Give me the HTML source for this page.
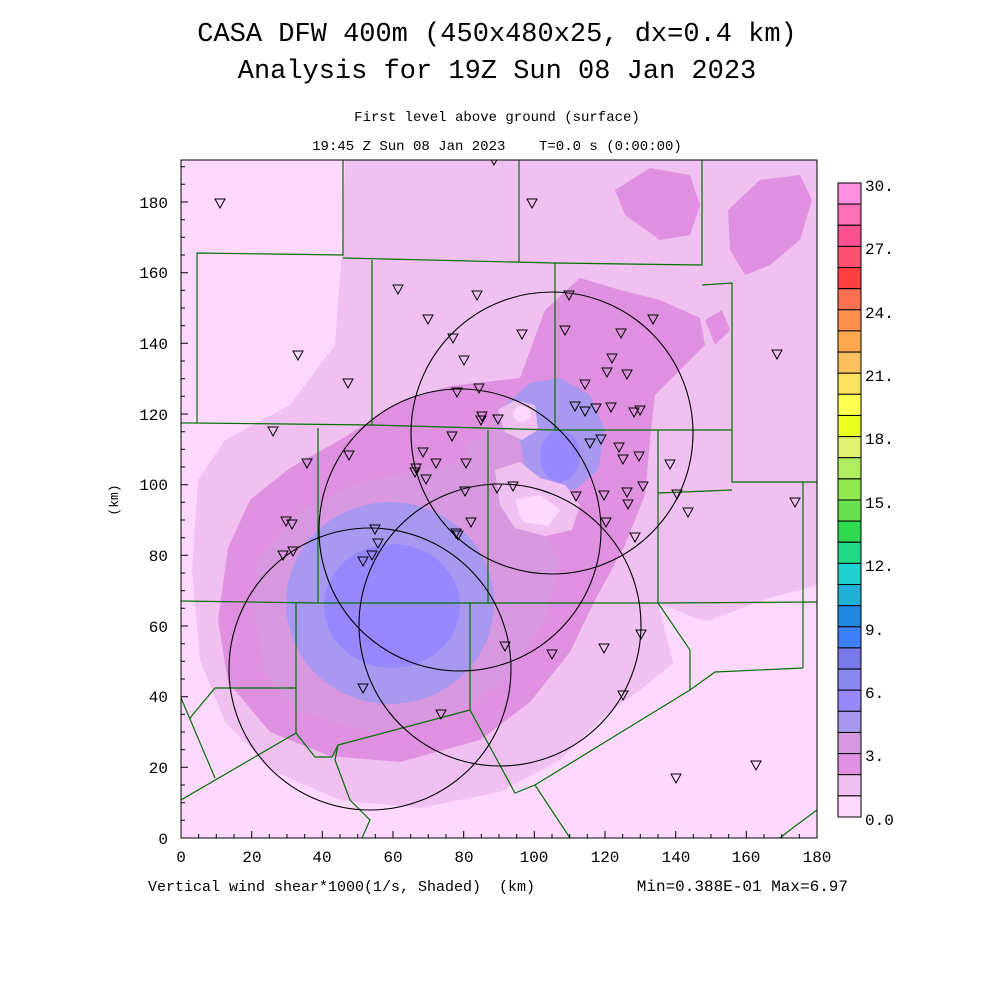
<!DOCTYPE html>
<html><head><meta charset="utf-8"><style>
html,body{margin:0;padding:0;background:#fff}
svg{display:block}
text{font-family:"Liberation Mono","DejaVu Sans Mono",monospace;fill:#000;white-space:pre}
</style></head><body>
<svg width="1000" height="1000" viewBox="0 0 1000 1000" xmlns="http://www.w3.org/2000/svg" xml:space="preserve">
<defs>
<clipPath id="pc"><rect x="181" y="160" width="636" height="678"/></clipPath>
</defs>
<text x="497" y="41" font-size="27" text-anchor="middle">CASA DFW 400m (450x480x25, dx=0.4 km)</text>
<text x="497" y="78" font-size="27" text-anchor="middle">Analysis for 19Z Sun 08 Jan 2023</text>
<text x="497" y="121" font-size="14" text-anchor="middle">First level above ground (surface)</text>
<text x="497" y="150" font-size="14" text-anchor="middle">19:45 Z Sun 08 Jan 2023    T=0.0 s (0:00:00)</text>

<g clip-path="url(#pc)">
<rect x="181" y="160" width="636" height="678" fill="#ffd8ff"/>
<g stroke-linejoin="round">
<path fill="#f0c0f0" d="M345,160 L817,160 L817,585 L770,598 L715,618 L690,650 L640,690 L600,720 L560,760 L500,792 L420,808 L340,800 L275,772 L225,722 L200,660 L192,570 L198,480 L225,440 L290,405 L335,345 L342,250 Z"/>
<path fill="#ffd8ff" d="M658,603 L700,620 L817,625 L817,838 L560,838 L620,760 L680,690 Z"/>
<path fill="#e090e0" d="M250,500 L290,468 L340,440 L400,402 L450,386 L520,378 L545,310 L580,278 L620,290 L660,300 L700,318 L705,345 L680,370 L655,395 L650,440 L645,495 L625,545 L595,600 L570,652 L530,702 L480,740 L400,762 L330,756 L270,732 L228,682 L218,620 L228,548 Z"/>
<path fill="#e090e0" d="M615,190 L650,168 L690,175 L700,205 L690,235 L660,240 L625,215 Z"/>
<path fill="#e090e0" d="M728,210 L760,180 L800,175 L812,200 L800,240 L770,265 L745,275 L730,250 Z"/>
<path fill="#e090e0" d="M705,320 L722,310 L730,330 L715,345 Z"/>
<path fill="#d898e0" d="M258,560 L300,512 L360,482 L420,470 L470,460 L500,405 L540,380 L580,395 L605,425 L595,470 L545,472 L535,520 L560,560 L545,620 L505,680 L445,720 L370,732 L300,712 L265,672 L254,612 Z"/>
<path fill="#a898f0" d="M500,410 L530,383 L560,378 L590,395 L605,430 L598,470 L575,490 L545,488 L525,470 L520,440 Z"/>
<ellipse cx="390" cy="603" rx="104" ry="101" fill="#a898f0"/>
<ellipse cx="392" cy="606" rx="68" ry="62" fill="#9888ff"/>
<ellipse cx="560" cy="456" rx="20" ry="26" fill="#9888ff"/>
<ellipse cx="480" cy="450" rx="14" ry="10" fill="#d898e0"/>
<path fill="#f0c0f0" d="M495,470 L520,462 L540,478 L565,485 L580,505 L572,530 L545,536 L515,528 L500,505 Z"/>
<path fill="#ffd8ff" d="M515,500 L540,495 L560,510 L548,526 L522,522 Z"/>
<path fill="#f0c0f0" d="M498,410 L515,400 L535,405 L538,430 L522,440 L505,432 Z"/>
<ellipse cx="522" cy="414" rx="9" ry="8" fill="#ffd8ff"/>
</g>
<g fill="none" stroke="#007000" stroke-width="1.2">
<path d="M343,160 L343,255 L197,253 L197,423 L372,425 L555,430 L732,430"/>
<path d="M343,258 L555,263 L702,265 L702,160"/>
<path d="M519,160 L519,262"/>
<path d="M702,285 L732,283 L732,482 L817,482"/>
<path d="M555,263 L555,430"/>
<path d="M372,260 L372,425"/>
<path d="M181,423 L197,423"/>
<path d="M318,428 L318,603"/>
<path d="M488,430 L488,603"/>
<path d="M658,430 L658,603"/>
<path d="M658,493 L732,490"/>
<path d="M803,482 L803,668"/>
<path d="M181,601 L318,603 L658,603 L817,602"/>
<path d="M296,603 L296,688 L215,688 L190,718"/>
<path d="M296,688 L296,733 L181,800"/>
<path d="M181,698 L215,778"/>
<path d="M470,603 L470,710 L338,745 L332,757 L315,757 L296,733"/>
<path d="M470,710 L515,793 L535,785 L690,690"/>
<path d="M658,603 L690,650 L690,690 L715,672 L803,668"/>
<path d="M535,785 L570,838"/>
<path d="M338,745 L335,760 L350,800 L370,820 L362,838"/>
<path d="M817,810 L790,830 L780,838"/>
</g>
<g fill="none" stroke="#000" stroke-width="1.1">
<circle cx="552" cy="433" r="141"/>
<circle cx="460" cy="530" r="141"/>
<circle cx="370" cy="669" r="141"/>
<circle cx="500" cy="625" r="141"/>
</g>
</g>
<g fill="none" stroke="#000" stroke-width="1" clip-path="url(#pc)">
<path d="
M489,156l10,0l-5,9z M527,199l10,0l-5,9z M393,285l10,0l-5,9z M472,291l10,0l-5,9z M423,315l10,0l-5,9z
M564,291l10,0l-5,9z M616,329l10,0l-5,9z M648,315l10,0l-5,9z M293,351l10,0l-5,9z M448,334l10,0l-5,9z
M459,356l10,0l-5,9z M517,330l10,0l-5,9z M560,326l10,0l-5,9z M607,354l10,0l-5,9z M580,380l10,0l-5,9z
M602,368l10,0l-5,9z M622,370l10,0l-5,9z M343,379l10,0l-5,9z M452,388l10,0l-5,9z M474,384l10,0l-5,9z
M606,403l10,0l-5,9z M591,404l10,0l-5,9z M570,402l10,0l-5,9z M580,407l10,0l-5,9z M635,406l10,0l-5,9z
M629,408l10,0l-5,9z M477,412l10,0l-5,9z M476,416l10,0l-5,9z M493,415l10,0l-5,9z M268,427l10,0l-5,9z
M447,432l10,0l-5,9z M596,435l10,0l-5,9z M585,439l10,0l-5,9z M614,443l10,0l-5,9z M618,455l10,0l-5,9z
M634,452l10,0l-5,9z M344,451l10,0l-5,9z M418,448l10,0l-5,9z M302,459l10,0l-5,9z M411,464l10,0l-5,9z
M431,459l10,0l-5,9z M461,459l10,0l-5,9z M665,460l10,0l-5,9z M571,492l10,0l-5,9z M599,491l10,0l-5,9z
M622,488l10,0l-5,9z M638,482l10,0l-5,9z M623,500l10,0l-5,9z M672,490l10,0l-5,9z M683,508l10,0l-5,9z
M421,475l10,0l-5,9z M410,468l10,0l-5,9z M492,484l10,0l-5,9z M508,482l10,0l-5,9z M460,487l10,0l-5,9z
M281,517l10,0l-5,9z M287,520l10,0l-5,9z M466,518l10,0l-5,9z M451,529l10,0l-5,9z M453,531l10,0l-5,9z
M370,525l10,0l-5,9z M373,539l10,0l-5,9z M367,551l10,0l-5,9z M358,557l10,0l-5,9z M278,551l10,0l-5,9z
M288,547l10,0l-5,9z M601,518l10,0l-5,9z M630,533l10,0l-5,9z M500,642l10,0l-5,9z M547,650l10,0l-5,9z
M599,644l10,0l-5,9z M636,630l10,0l-5,9z M618,691l10,0l-5,9z M358,684l10,0l-5,9z M436,710l10,0l-5,9z
M671,774l10,0l-5,9z M751,761l10,0l-5,9z M772,350l10,0l-5,9z M790,498l10,0l-5,9z M215,199l10,0l-5,9z"/>
</g>
<rect x="181" y="160" width="636" height="678" fill="none" stroke="#000" stroke-width="1"/>
<g stroke="#000" stroke-width="1">
<path d="M181,838h7M181,820.3h4M181,802.7h4M181,785h4M181,767.3h7M181,749.7h4M181,732h4M181,714.3h4M181,696.7h7M181,679h4M181,661.3h4M181,643.7h4M181,626h7M181,608.3h4M181,590.7h4M181,573h4M181,555.3h7M181,537.7h4M181,520h4M181,502.3h4M181,484.7h7M181,467h4M181,449.3h4M181,431.7h4M181,414h7M181,396.3h4M181,378.7h4M181,361h4M181,343.3h7M181,325.7h4M181,308h4M181,290.3h4M181,272.7h7M181,255h4M181,237.3h4M181,219.7h4M181,202h7M181,184.3h4M181,166.7h4"/>
<path d="M181,838v-7M198.7,838v-4M216.3,838v-4M234,838v-4M251.7,838v-7M269.3,838v-4M287,838v-4M304.7,838v-4M322.3,838v-7M340,838v-4M357.7,838v-4M375.3,838v-4M393,838v-7M410.7,838v-4M428.3,838v-4M446,838v-4M463.7,838v-7M481.3,838v-4M499,838v-4M516.7,838v-4M534.3,838v-7M552,838v-4M569.7,838v-4M587.3,838v-4M605,838v-7M622.7,838v-4M640.3,838v-4M658,838v-4M675.7,838v-7M693.3,838v-4M711,838v-4M728.7,838v-4M746.3,838v-7M764,838v-4M781.7,838v-4M799.3,838v-4M817,838v-7"/>
</g>
<g font-size="16" text-anchor="end">
<text x="168" y="844">0</text><text x="168" y="773">20</text><text x="168" y="702">40</text><text x="168" y="632">60</text><text x="168" y="561">80</text><text x="168" y="490">100</text><text x="168" y="420">120</text><text x="168" y="349">140</text><text x="168" y="278">160</text><text x="168" y="208">180</text>
</g>
<g font-size="16" text-anchor="middle">
<text x="181" y="862">0</text><text x="252" y="862">20</text><text x="322" y="862">40</text><text x="393" y="862">60</text><text x="464" y="862">80</text><text x="534" y="862">100</text><text x="605" y="862">120</text><text x="676" y="862">140</text><text x="746" y="862">160</text><text x="817" y="862">180</text>
</g>
<text x="118" y="500" font-size="13" text-anchor="middle" transform="rotate(-90 118 500)">(km)</text>
<text x="148" y="891" font-size="15">Vertical wind shear*1000(1/s, Shaded)  (km)</text>
<text x="848" y="891" font-size="16" text-anchor="end">Min=0.388E-01 Max=6.97</text>
<g stroke="#000" stroke-width="1">
<rect x="838" y="183.0" width="23" height="21.1" fill="#ff90e0"/>
<rect x="838" y="204.1" width="23" height="21.1" fill="#ff70b8"/>
<rect x="838" y="225.3" width="23" height="21.1" fill="#ff5090"/>
<rect x="838" y="246.4" width="23" height="21.1" fill="#ff5070"/>
<rect x="838" y="267.5" width="23" height="21.1" fill="#ff4040"/>
<rect x="838" y="288.7" width="23" height="21.1" fill="#ff7050"/>
<rect x="838" y="309.8" width="23" height="21.1" fill="#ff9050"/>
<rect x="838" y="330.9" width="23" height="21.1" fill="#ffa850"/>
<rect x="838" y="352.1" width="23" height="21.1" fill="#ffc060"/>
<rect x="838" y="373.2" width="23" height="21.1" fill="#ffe060"/>
<rect x="838" y="394.3" width="23" height="21.1" fill="#ffff50"/>
<rect x="838" y="415.5" width="23" height="21.1" fill="#e8ff20"/>
<rect x="838" y="436.6" width="23" height="21.1" fill="#e0f070"/>
<rect x="838" y="457.7" width="23" height="21.1" fill="#b0f060"/>
<rect x="838" y="478.9" width="23" height="21.1" fill="#90e850"/>
<rect x="838" y="500.0" width="23" height="21.1" fill="#68e050"/>
<rect x="838" y="521.1" width="23" height="21.1" fill="#30d850"/>
<rect x="838" y="542.3" width="23" height="21.1" fill="#20d888"/>
<rect x="838" y="563.4" width="23" height="21.1" fill="#20d0d0"/>
<rect x="838" y="584.5" width="23" height="21.1" fill="#20b0d8"/>
<rect x="838" y="605.7" width="23" height="21.1" fill="#2088e0"/>
<rect x="838" y="626.8" width="23" height="21.1" fill="#3c80ff"/>
<rect x="838" y="647.9" width="23" height="21.1" fill="#7878e8"/>
<rect x="838" y="669.1" width="23" height="21.1" fill="#8888f0"/>
<rect x="838" y="690.2" width="23" height="21.1" fill="#9888ff"/>
<rect x="838" y="711.3" width="23" height="21.1" fill="#a898f0"/>
<rect x="838" y="732.5" width="23" height="21.1" fill="#d898e0"/>
<rect x="838" y="753.6" width="23" height="21.1" fill="#e090e0"/>
<rect x="838" y="774.7" width="23" height="21.1" fill="#f0c0f0"/>
<rect x="838" y="795.9" width="23" height="21.1" fill="#ffd8ff"/>
</g>
<g font-size="16">
<text x="865" y="191">30.</text><text x="865" y="254">27.</text><text x="865" y="318">24.</text><text x="865" y="381">21.</text><text x="865" y="444">18.</text><text x="865" y="508">15.</text><text x="865" y="571">12.</text><text x="865" y="635">9.</text><text x="865" y="698">6.</text><text x="865" y="761">3.</text><text x="865" y="825">0.0</text>
</g>
</svg>
</body></html>
